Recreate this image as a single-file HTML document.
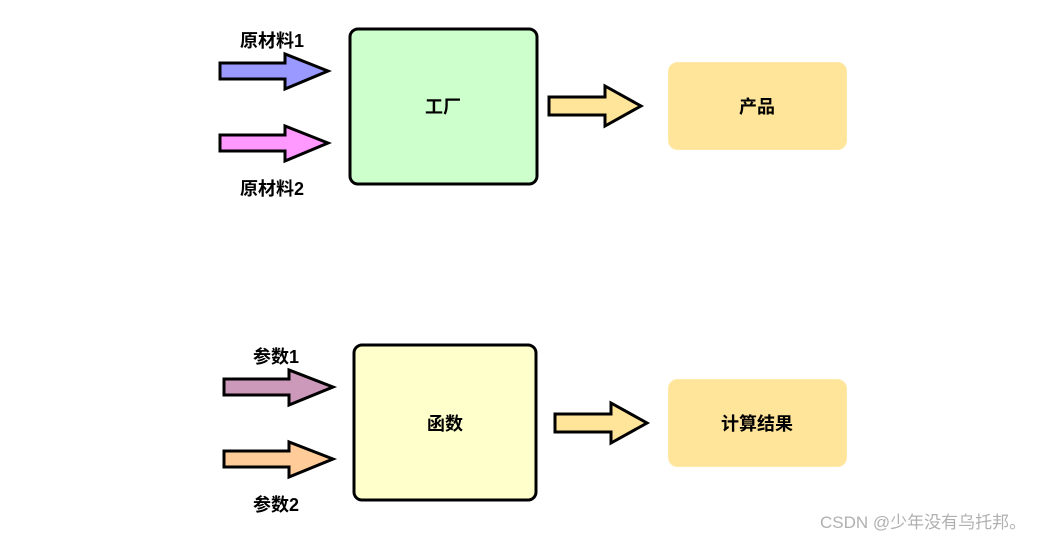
<!DOCTYPE html>
<html><head><meta charset="utf-8"><style>
body{margin:0;background:#fff;width:1054px;height:541px;overflow:hidden}
text{font-family:"Liberation Sans","Noto Sans CJK SC",sans-serif;font-weight:bold;font-size:18px}
</style></head><body>
<svg width="1054" height="541" viewBox="0 0 1054 541">
<g stroke="#000" stroke-width="3" stroke-linejoin="miter">
<polygon points="220,63 285,63 285,54 328,71 285,89 285,79 220,79" fill="#9999ff"/>
<polygon points="220,135 285,135 285,126 328,143 285,161 285,151 220,151" fill="#ff99ff"/>
<polygon points="549,97 605,97 605,86 641,106 605,126 605,115 549,115" fill="#ffe599"/>
<rect x="350" y="29" width="187" height="155" rx="8" fill="#ccffcc"/>
<polygon points="224,379 289,379 289,370 333,387 289,405 289,395 224,395" fill="#cc99bb"/>
<polygon points="224,451 289,451 289,442 333,459 289,477 289,467 224,467" fill="#ffcc99"/>
<polygon points="555,414 611,414 611,403 647,423 611,443 611,432 555,432" fill="#ffe599"/>
<rect x="354" y="345" width="182" height="155" rx="8" fill="#ffffcc"/>
</g>
<rect x="668.5" y="62.5" width="178" height="87" rx="9" fill="#ffe599" stroke="#ffe8a8"/>
<rect x="668.5" y="379.5" width="178" height="87" rx="9" fill="#ffe599" stroke="#ffe8a8"/>
<g text-anchor="middle" fill="#000">
<text x="272" y="47">原材料1</text>
<text x="272" y="195">原材料2</text>
<text x="443" y="113">工厂</text>
<text x="757" y="113">产品</text>
<text x="276" y="363">参数1</text>
<text x="276" y="511">参数2</text>
<text x="445" y="430">函数</text>
<text x="757" y="430">计算结果</text>
</g>
<text x="820" y="528" style="font-weight:normal;font-size:17px" fill="#b0b0b0">CSDN @少年没有乌托邦。</text>
</svg>
</body></html>
